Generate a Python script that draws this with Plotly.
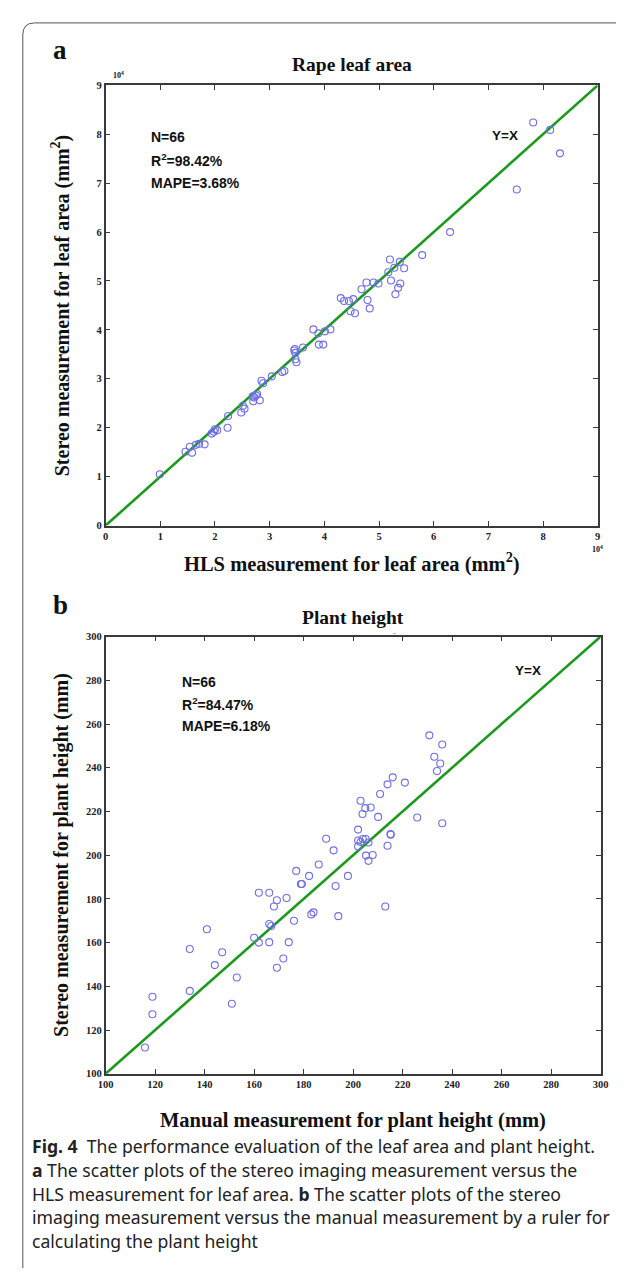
import plotly.graph_objects as go

# ---------------- Data ----------------
# Panel a: leaf area (units of 10^4 mm^2)
hls_leaf_area = [0.99, 1.46, 1.54, 1.58, 1.65, 1.71, 1.81, 1.94, 1.98, 2.04, 2.00, 2.23, 2.24,
                 2.48, 2.51, 2.54, 2.69, 2.70, 2.72, 2.75, 2.77, 2.82, 2.85, 2.88, 3.04, 3.23,
                 3.27, 3.45, 3.46, 3.47, 3.47, 3.49, 3.61, 3.80, 3.89, 3.90, 3.98, 4.01, 4.11,
                 4.30, 4.36, 4.45, 4.53, 4.48, 4.56, 4.68, 4.77, 4.79, 4.83, 4.90, 4.99, 5.17,
                 5.20, 5.22, 5.28, 5.30, 5.35, 5.38, 5.39, 5.46, 5.79, 6.30, 7.52, 7.82, 8.13, 8.31]
stereo_leaf_area = [1.05, 1.51, 1.61, 1.49, 1.65, 1.67, 1.66, 1.88, 1.92, 1.95, 1.97, 2.00, 2.24,
                    2.31, 2.45, 2.39, 2.64, 2.54, 2.62, 2.66, 2.69, 2.56, 2.96, 2.91, 3.05, 3.14,
                    3.16, 3.58, 3.61, 3.53, 3.40, 3.34, 3.64, 4.01, 3.93, 3.70, 3.70, 3.97, 4.01,
                    4.65, 4.59, 4.59, 4.63, 4.38, 4.34, 4.83, 4.97, 4.61, 4.44, 4.97, 4.95, 5.18,
                    5.44, 5.01, 5.27, 4.73, 4.86, 5.39, 4.95, 5.26, 5.53, 6.00, 6.87, 8.24, 8.09, 7.61]

# Panel b: plant height (mm)
manual_height = [115.9, 118.9, 118.9, 134.0, 134.0, 140.9, 144.1, 147.1, 151.0, 153.0, 160.0,
                 161.9, 161.9, 166.1, 166.1, 166.1, 166.9, 168.0, 169.2, 169.2, 171.8, 173.1,
                 174.0, 176.1, 177.0, 178.9, 179.3, 182.2, 183.1, 184.0, 186.1, 189.1, 192.1,
                 192.9, 194.0, 197.9, 202.0, 202.0, 202.0, 203.0, 203.8, 203.9, 204.9, 205.1,
                 205.2, 206.2, 206.2, 207.1, 207.9, 210.1, 210.9, 213.0, 213.9, 213.9, 215.1,
                 215.2, 216.0, 220.9, 225.9, 230.8, 232.8, 233.9, 235.2, 236.0, 236.0, 203.0]
stereo_height = [112.0, 135.2, 127.2, 157.1, 137.9, 166.1, 149.7, 155.6, 132.0, 144.0, 162.2,
                 160.0, 182.8, 182.8, 168.5, 160.2, 167.6, 176.5, 179.4, 148.5, 152.7, 180.4,
                 160.2, 170.0, 192.8, 186.8, 186.8, 190.5, 172.9, 173.8, 195.7, 207.5, 202.2,
                 185.9, 172.1, 190.5, 211.7, 206.7, 204.0, 224.9, 218.8, 207.4, 221.5, 207.4,
                 199.8, 205.8, 197.4, 221.8, 200.1, 217.5, 228.0, 176.5, 204.3, 232.4, 209.7,
                 209.3, 235.6, 233.2, 217.2, 254.8, 245.0, 238.5, 241.9, 250.6, 214.6, 206.0]

leaf_range = [0, 9]
leaf_ticks = [0, 1, 2, 3, 4, 5, 6, 7, 8, 9]
height_range = [100, 300]
height_ticks = [100, 120, 140, 160, 180, 200, 220, 240, 260, 280, 300]

stats_a = ["N=66", "R<sup>2</sup>=98.42%", "MAPE=3.68%"]
stats_b = ["N=66", "R<sup>2</sup>=84.47%", "MAPE=6.18%"]

caption_lines = [
    "<b>Fig. 4</b>  The performance evaluation of the leaf area and plant height.",
    "<b>a</b> The scatter plots of the stereo imaging measurement versus the",
    "HLS measurement for leaf area. <b>b</b> The scatter plots of the stereo",
    "imaging measurement versus the manual measurement by a ruler for",
    "calculating the plant height",
]

# ---------------- Layout geometry (pixels) ----------------
W, H = 624, 1272
def px(x):
    return x / W
def py(y):
    return 1 - y / H

A_L, A_R, A_T, A_B = 92, 597, 73, 517
B_L, B_R, B_T, B_B = 92, 600, 629, 1070

SERIF = "Liberation Serif, Times New Roman, serif"
SANS = "Liberation Sans, Arial, sans-serif"
MARK = "#6e6ee8"
GREEN = "#1d9a1d"
AX = "#3a3a3a"

fig = go.Figure()

fig.add_trace(go.Scatter(x=leaf_range, y=leaf_range, mode="lines",
                         line=dict(color=GREEN, width=2.6), xaxis="x", yaxis="y",
                         showlegend=False, hoverinfo="skip"))
fig.add_trace(go.Scatter(x=hls_leaf_area, y=stereo_leaf_area, mode="markers",
                         marker=dict(symbol="circle-open", size=7, color=MARK, line=dict(width=1.1)),
                         xaxis="x", yaxis="y", showlegend=False))
fig.add_trace(go.Scatter(x=height_range, y=height_range, mode="lines",
                         line=dict(color=GREEN, width=2.6), xaxis="x2", yaxis="y2",
                         showlegend=False, hoverinfo="skip"))
fig.add_trace(go.Scatter(x=manual_height, y=stereo_height, mode="markers",
                         marker=dict(symbol="circle-open", size=7, color=MARK, line=dict(width=1.1)),
                         xaxis="x2", yaxis="y2", showlegend=False))

tickfont = dict(family=SERIF, size=10.5, color="#222", weight="bold")
axis_common = dict(showgrid=False, zeroline=False, showline=True, linecolor=AX, linewidth=1.6,
                   mirror="ticks", ticks="inside", ticklen=5, tickwidth=1.2, tickcolor=AX,
                   tickfont=tickfont)

fig.update_layout(
    width=W, height=H,
    margin=dict(l=0, r=0, t=0, b=0),
    paper_bgcolor="white", plot_bgcolor="white",
    xaxis=dict(domain=[px(A_L), px(A_R)], anchor="y", range=leaf_range,
               tickvals=leaf_ticks, **axis_common),
    yaxis=dict(domain=[py(A_B), py(A_T)], anchor="x", range=leaf_range,
               tickvals=leaf_ticks, **axis_common),
    xaxis2=dict(domain=[px(B_L), px(B_R)], anchor="y2", range=height_range,
                tickvals=height_ticks, **axis_common),
    yaxis2=dict(domain=[py(B_B), py(B_T)], anchor="x2", range=height_range,
                tickvals=height_ticks, **axis_common),
)

ann = []
def text(x, y, t, size, family=SERIF, bold=True, xanchor="center", yanchor="middle", angle=0, color="#111"):
    ann.append(dict(x=px(x), y=py(y), xref="paper", yref="paper", text=t, showarrow=False,
                    xanchor=xanchor, yanchor=yanchor, textangle=angle,
                    font=dict(family=family, size=size, color=color, weight="bold" if bold else "normal")))

# Panel a
text(36, 37, "a", 27, xanchor="left")
text((A_L + A_R) / 2, 52, "Rape leaf area", 19.5)
text(98, 63, "10<sup>4</sup>", 8, xanchor="left")
text(A_R - 8, 541, "10<sup>4</sup>", 8, xanchor="left")
text((A_L + A_R) / 2, 554, "HLS measurement for leaf area (mm<sup>2</sup>)", 20.5)
text(46, (A_T + A_B) / 2, "Stereo measurement for leaf area (mm<sup>2</sup>)", 20, angle=-90)
for i, s in enumerate(stats_a):
    text(136, 125 + 23 * i, s, 14, family=SANS, xanchor="left")
text(486, 124, "Y=X", 13.5, family=SANS, xanchor="left")

# Panel b
text(36, 597, "b", 27, xanchor="left")
text((B_L + B_R) / 2, 610, "Plant height", 19.5)
text(388, 625, "-", 9, bold=False, color="#777")
text((B_L + B_R) / 2, 1117, "Manual measurement for plant height (mm)", 20.5)
text(46, (B_T + B_B) / 2, "Stereo measurement for plant height (mm)", 20, angle=-90)
for i, s in enumerate(stats_b):
    text(168, 675 + 22 * i, s, 14, family=SANS, xanchor="left")
text(510, 663, "Y=X", 13.5, family=SANS, xanchor="left")

# Caption
for i, line in enumerate(caption_lines):
    text(14, 1143 + 24 * i, line, 17.6, family="Noto Sans, Open Sans, sans-serif", bold=False,
         xanchor="left", color="#222")

fig.update_layout(annotations=ann)

# Frame (left + top border with rounded top-left corner)
fig.add_shape(type="path", xref="paper", yref="paper",
              path=f"M {px(7)} {py(1266)} L {px(7)} {py(22)} Q {px(7)} {py(10)} {px(19)} {py(10)} L {px(624)} {py(10)}",
              line=dict(color="#555", width=1))

fig.write_html("out.html")
